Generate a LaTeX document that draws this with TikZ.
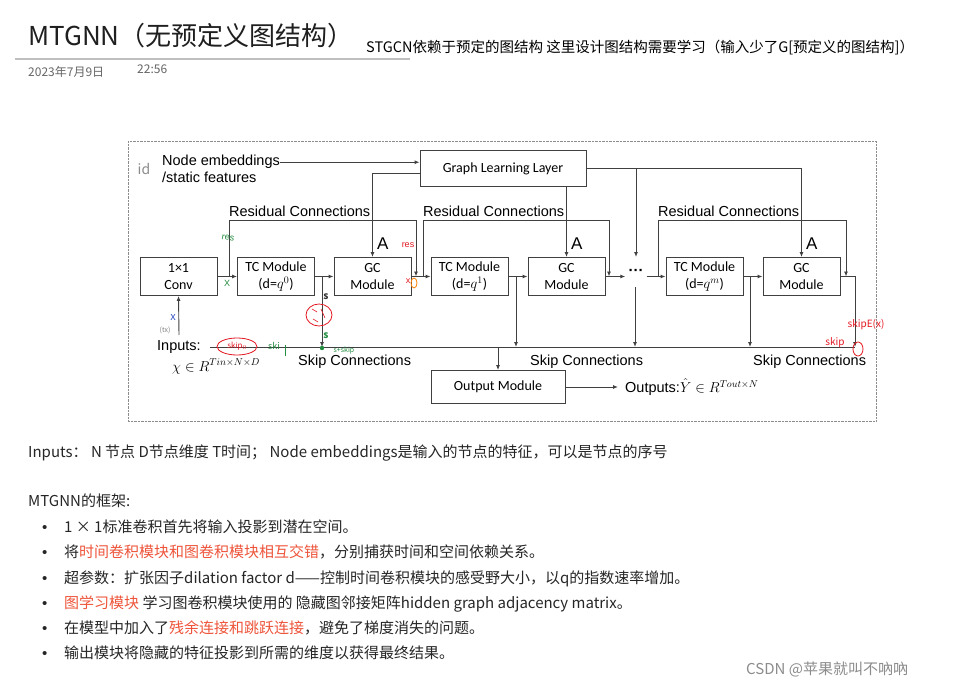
\documentclass[tikz,border=0pt]{standalone}
\usepackage{amsmath,amssymb}
\usepackage[no-math]{fontspec}
\setmainfont{Noto Sans CJK SC}
\newfontfamily\arialfont{Liberation Sans}
\newfontfamily\calfont{Carlito}
\usetikzlibrary{arrows.meta, positioning, calc}
\definecolor{linegray}{RGB}{64,64,64}
\definecolor{notered}{RGB}{238,84,58}
\definecolor{hwred}{RGB}{228,24,34}
\definecolor{hwgreen}{RGB}{34,140,64}
\definecolor{hwblue}{RGB}{60,90,200}

\begin{document}
\begin{tikzpicture}[
    x=1pt, y=-1pt, >={Latex[length=5pt,width=4pt]},
    module/.style={draw=linegray, line width=0.9pt, minimum width=77pt, minimum height=38pt,
                   inner sep=0pt, align=center, font=\calfont\fontsize{14}{17}\selectfont},
    wire/.style={draw=linegray, line width=0.9pt},
    arr/.style={wire, ->},
    lbl/.style={font=\arialfont\fontsize{14.5}{17}\selectfont, inner sep=0pt, anchor=base west},
    body/.style={font=\fontsize{15}{18}\selectfont, inner sep=0pt, anchor=base west, text=black!85},
    hand/.style={font=\arialfont\fontsize{9}{10}\selectfont, inner sep=0pt}
]
    \useasboundingbox (0,0) rectangle (970,690);
    \fill[white] (0,0) rectangle (970,690);

    % page header
    \node[body, font=\fontsize{26}{30}\selectfont, text=black!88] (title) at (28,46) {MTGNN（无预定义图结构）};
    \draw[black!25, line width=1.5pt] (15,59) -- (410,59);
    \node[body, font=\fontsize{14.5}{17}\selectfont, text=black] (note) at (366,53)
        {STGCN依赖于预定的图结构 这里设计图结构需要学习（输入少了G[预定义的图结构]）};
    \node[body, font=\fontsize{12}{14}\selectfont, text=black!60] (date) at (28,77) {2023年7月9日};
    \node[body, font=\fontsize{12}{14}\selectfont, text=black!60] (time) at (137,74) {22:56};

    % figure frame
    \draw[black!45, densely dotted] (128,141) rectangle (876,421);

    % modules
    \node[module] (conv) at (178.5,276.5) {1×1\\Conv};
    \node[module] (tc0)  at (276,276.5)   {TC Module\\(d=$q^{0}$)};
    \node[module] (gc1)  at (372.5,276.5) {GC\\Module};
    \node[module] (tc1)  at (469.5,276.5) {TC Module\\(d=$q^{1}$)};
    \node[module] (gc2)  at (566.5,276.5) {GC\\Module};
    \node[inner sep=0pt, font=\arialfont\bfseries\fontsize{15}{15}\selectfont] (dots) at (636,272) {···};
    \node[module] (tcm)  at (704.5,276.5) {TC Module\\(d=$q^{m}$)};
    \node[module] (gc3)  at (801.5,276.5) {GC\\Module};
    \node[module, minimum width=166pt, minimum height=36pt] (gll) at (503,168.5) {Graph Learning Layer};
    \node[module, minimum width=134pt, minimum height=33pt] (out) at (498,387) {Output Module};

    % text labels
    \node[lbl] (emb1) at (162,166) {Node embeddings};
    \node[lbl] (emb2) at (162,183) {/static features};
    \node[lbl] (inp1) at (157,350) {Inputs:};
    \node[lbl] (inp2) at (172,371) {$\chi \in R^{Tin\times N\times D}$};
    \node[lbl] (res1) at (229,217) {Residual Connections};
    \node[lbl] (res2) at (423,217) {Residual Connections};
    \node[lbl] (res3) at (658,217) {Residual Connections};
    \node[lbl] (skp1) at (298,365) {Skip Connections};
    \node[lbl] (skp2) at (530,365) {Skip Connections};
    \node[lbl] (skp3) at (753,365) {Skip Connections};
    \node[lbl, font=\arialfont\fontsize{17}{19}\selectfont] (a1) at (377,249) {A};
    \node[lbl, font=\arialfont\fontsize{17}{19}\selectfont] (a2) at (571,249) {A};
    \node[lbl, font=\arialfont\fontsize{17}{19}\selectfont] (a3) at (806,249) {A};
    \node[lbl, anchor=west] (outs) at (625,387) {Outputs:$\hat{Y}\in R^{Tout\times N}$};

    % junctions
    \coordinate (in0) at (179,335);
    \coordinate (busl) at (210,347);
    \coordinate (busr) at (855,347);
    \coordinate (r1a) at (229,276.5);
    \coordinate (r1b) at (416,220);
    \coordinate (r2a) at (423,276.5);
    \coordinate (r2b) at (609,220);
    \coordinate (r3a) at (658,276.5);
    \coordinate (r3b) at (846,220);
    \coordinate (s0) at (322,276.5);
    \coordinate (s1) at (516,276.5);
    \coordinate (s2) at (635,287);
    \coordinate (s3) at (750,276.5);
    \coordinate (g0) at (636,257);

    % main chain
    \draw[arr] (in0) -- (conv.south);
    \draw[arr] (conv) -- (tc0);
    \draw[arr] (tc0) -- (gc1);
    \draw[arr] (gc1) -- (tc1);
    \draw[arr] (tc1) -- (gc2);
    \draw[arr] (gc2.east) -- ([xshift=-3pt]dots.west |- gc2.east);
    \draw[arr] ([xshift=3pt]dots.east |- tcm.west) -- (tcm.west);
    \draw[arr] (tcm) -- (gc3);

    % graph learning layer
    \draw[arr] (emb1.east) -- (emb1.east -| gll.west);
    \draw[arr] ([yshift=-5pt]gll.west) -| (gc1.north);
    \draw[arr] (gll.south -| gc2.north) -- (gc2.north);
    \draw[arr] (gll.east) -| (gc3.north);
    \draw[arr] (gll.east -| g0) -- (g0);

    % residual connections
    \draw[arr] (r1a) |- (r1b) -- (r1b |- gc1.east);
    \draw[arr] (r2a) |- (r2b) -- (r2b |- gc2.east);
    \draw[arr] (r3a) |- (r3b) -- (r3b |- gc3.east);

    % skip connections
    \draw[wire] (busl) -- (busr);
    \draw[arr] (s0) -- (s0 |- busl);
    \draw[arr] (s1) -- (s1 |- busl);
    \draw[arr] (s2) -- (s2 |- busl);
    \draw[arr] (s3) -- (s3 |- busl);
    \draw[arr] (gc3.east) -| (busr);
    \draw[arr] (out.north |- busl) -- (out.north);
    \draw[arr] (out.east) -- ([xshift=-7pt]outs.west);

    % handwritten notes
    \node[hand, text=black!45, font=\itshape\fontsize{14}{14}\selectfont] (hid) at (144,169) {id};
    \node[hand, text=hwgreen, rotate=-10] (hres1) at (228,238) {res};
    \node[hand, text=hwgreen] (hx1) at (227,283) {X};
    \node[hand, text=hwred] (hres2) at (408,245) {res};
    \node[hand, text=hwred] (hx2) at (408,281) {x};
    \draw[orange, line width=0.8pt] (414,283) ellipse (3pt and 5pt);
    \node[hand, text=hwblue, font=\itshape\fontsize{11}{11}\selectfont] (hx3) at (173,318) {x};
    \node[hand, text=black!50, font=\fontsize{7}{7}\selectfont] (htx) at (165,330) {(tx)};
    \node[hand, text=black!80, font=\bfseries\fontsize{10}{10}\selectfont] (hs1) at (326,297) {s};
    \draw[hwred, line width=0.8pt] (319,315) ellipse (13pt and 11pt);
    \draw[hwred, line width=0.6pt] (312,309) -- (317,312) (321,309) -- (325,318) (313,319) -- (318,322);
    \node[hand, text=hwgreen, font=\bfseries\fontsize{10}{10}\selectfont] (hs2) at (326,336) {s};
    \fill[hwgreen] (322,348) circle (2.2pt);
    \node[hand, text=hwgreen, font=\fontsize{7}{7}\selectfont] (hss) at (344,351) {s+skip};
    \draw[hwred, line width=0.8pt] (237,346.5) ellipse (20pt and 8.5pt);
    \node[hand, text=hwred, font=\fontsize{8}{8}\selectfont] (hsk0) at (237,346) {skip$_0$};
    \node[hand, text=hwgreen, font=\fontsize{9}{9}\selectfont] (hsk1) at (274,346) {ski};
    \draw[hwgreen, line width=0.8pt] (285,345) -- (285,356);
    \node[hand, text=hwred, font=\fontsize{10}{10}\selectfont] (hske) at (866,325) {skipE(x)};
    \node[hand, text=hwred, font=\fontsize{10}{10}\selectfont] (hsk2) at (835,343) {skip};
    \draw[hwred, line width=0.8pt] (858,349) ellipse (5pt and 7pt);

    % notes below the figure
    \node[body] (l0) at (28,457) {Inputs：\ N 节点 D节点维度 T时间；\ Node embeddings是输入的节点的特征，可以是节点的序号};
    \node[body] (l1) at (28,506) {MTGNN的框架:};
    \foreach \yy in {532,557,583,608,633,658}
        \node[body, font=\arialfont\fontsize{15}{18}\selectfont] at (42,\yy) {•};
    \node[body] (b1) at (64,532) {1 × 1标准卷积首先将输入投影到潜在空间。};
    \node[body] (b2) at (64,557) {将\textcolor{notered}{时间卷积模块和图卷积模块相互交错}，分别捕获时间和空间依赖关系。};
    \node[body] (b3) at (64,583) {超参数：扩张因子dilation factor d——控制时间卷积模块的感受野大小，以q的指数速率增加。};
    \node[body] (b4) at (64,608) {\textcolor{notered}{图学习模块} 学习图卷积模块使用的 隐藏图邻接矩阵hidden graph adjacency matrix。};
    \node[body] (b5) at (64,633) {在模型中加入了\textcolor{notered}{残余连接和跳跃连接}，避免了梯度消失的问题。};
    \node[body] (b6) at (64,658) {输出模块将隐藏的特征投影到所需的维度以获得最终结果。};
    \node[body, font=\fontsize{15}{17}\selectfont, text=black!45] (mark) at (746,674) {CSDN @苹果就叫不吶吶};
\end{tikzpicture}
\end{document}
